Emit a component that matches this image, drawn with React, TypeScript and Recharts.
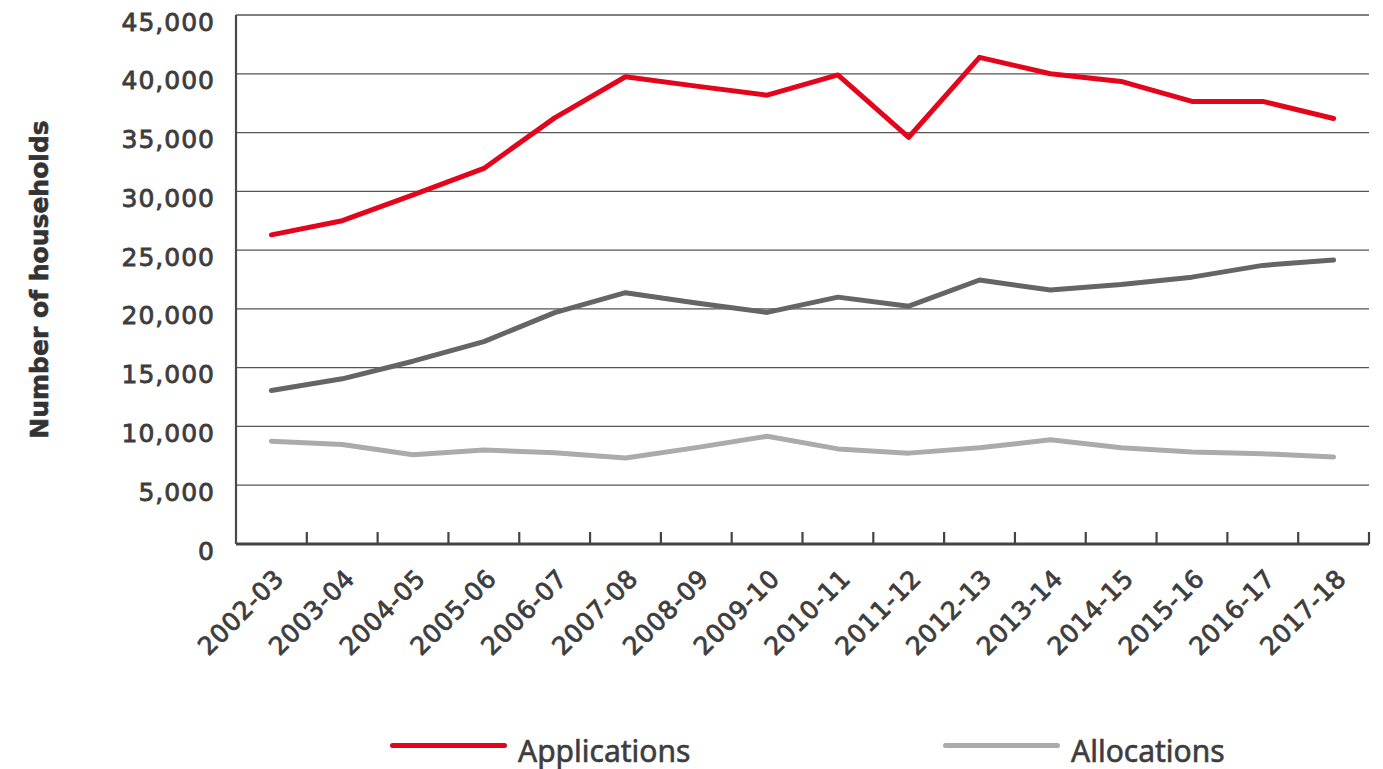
import React from 'react';
import { LineChart, Line, XAxis, YAxis, CartesianGrid, Legend } from 'recharts';

const years = ['2002-03', '2003-04', '2004-05', '2005-06', '2006-07', '2007-08', '2008-09', '2009-10', '2010-11', '2011-12', '2012-13', '2013-14', '2014-15', '2015-16', '2016-17', '2017-18'];
const applications = [26300, 27500, 29700, 31950, 36250, 39750, 38950, 38180, 39900, 34600, 41400, 40000, 39350, 37650, 37650, 36200];
const assessments = [13050, 14050, 15550, 17220, 19680, 21380, 20500, 19700, 21000, 20230, 22460, 21600, 22080, 22700, 23700, 24150];
const allocations = [8750, 8460, 7600, 8000, 7760, 7310, 8200, 9160, 8090, 7730, 8180, 8860, 8180, 7820, 7680, 7400];
const yTicks = [0, 5000, 10000, 15000, 20000, 25000, 30000, 35000, 40000, 45000];
const legendOrder = ['Applications', 'Allocations'];

const data = years.map((year, i) => ({
  idx: i,
  year,
  applications: applications[i],
  assessments: assessments[i],
  allocations: allocations[i],
}));

const xTicks = years.flatMap((_, i) => [i, i + 0.5]);

const TEXT = '#3d3d3d';
const FONT = '"DejaVu Sans", sans-serif';

const XTick = (props: any) => {
  const { x, y, payload } = props;
  const v = payload.value as number;
  if (Number.isInteger(v)) {
    const label = years[v];
    return (
      <text
        x={x + 14}
        y={y + 36}
        textAnchor="end"
        transform={`rotate(-45, ${x + 14}, ${y + 36})`}
        fill={TEXT}
        stroke={TEXT}
        strokeWidth={0.8}
        fontFamily={FONT}
        fontSize={25}
        letterSpacing={0.6}
      >
        {label}
      </text>
    );
  }
  return <line x1={x} x2={x} y1={y} y2={y - 12} stroke="#444" strokeWidth={2.2} />;
};

const YTick = (props: any) => {
  const { x, y, payload } = props;
  return (
    <text
      x={x}
      y={y + 8.5}
      textAnchor="end"
      dominantBaseline="middle"
      fill={TEXT}
      stroke={TEXT}
      strokeWidth={0.8}
      fontFamily={FONT}
      fontSize={25}
      letterSpacing={1}
    >
      {Number(payload.value).toLocaleString('en-US')}
    </text>
  );
};

const YTitle = (props: any) => {
  const { viewBox } = props;
  const cx = viewBox.x + 39;
  const cy = viewBox.y + viewBox.height / 2;
  return (
    <text
      x={cx}
      y={cy}
      textAnchor="middle"
      dominantBaseline="central"
      transform={`rotate(-90, ${cx}, ${cy})`}
      fill="#333"
      stroke="#333"
      strokeWidth={0.6}
      fontFamily={FONT}
      fontWeight="bold"
      fontSize={25}
    >
      Number of households
    </text>
  );
};

const LegendContent = (props: any) => {
  const payload = (props.payload || [])
    .filter((e: any) => legendOrder.includes(e.value))
    .sort((a: any, b: any) => legendOrder.indexOf(a.value) - legendOrder.indexOf(b.value));
  return (
    <div style={{ position: 'relative', width: 1383, height: 40 }}>
      {payload.map((entry: any, i: number) => {
        const left = 390 + i * 553;
        return (
          <div key={entry.value} style={{ position: 'absolute', left, top: 0, height: 40 }}>
            <div
              style={{
                position: 'absolute',
                left: 0,
                top: 14.2,
                width: 117,
                height: 5,
                borderRadius: 3,
                background: entry.color,
              }}
            />
            <div
              style={{
                position: 'absolute',
                left: 128,
                top: 7,
                fontFamily: '"Noto Sans", sans-serif',
                fontSize: 30,
                lineHeight: '30px',
                color: TEXT,
                WebkitTextStroke: `0.6px ${TEXT}`,
                whiteSpace: 'nowrap',
              }}
            >
              {entry.value}
            </div>
          </div>
        );
      })}
    </div>
  );
};

export default function App() {
  return (
    <div style={{ position: 'absolute', left: 0, top: 0, width: 1383, height: 769, background: '#fff' }}>
      <LineChart width={1383} height={769} data={data} margin={{ top: 15, right: 14, left: 0, bottom: 0 }}>
        <CartesianGrid vertical={false} stroke="#555" strokeWidth={1.3} />
        <XAxis
          dataKey="idx"
          type="number"
          domain={[-0.5, 15.5]}
          ticks={xTicks}
          interval={0}
          tickLine={false}
          tickSize={0}
          tickMargin={0}
          height={185}
          axisLine={{ stroke: '#444', strokeWidth: 3 }}
          tick={(p: any) => <XTick {...p} />}
        />
        <YAxis
          type="number"
          domain={[0, 45000]}
          ticks={yTicks}
          interval={0}
          width={236}
          tickLine={false}
          tickMargin={15}
          axisLine={{ stroke: '#4a4a4a', strokeWidth: 2.2 }}
          tick={(p: any) => <YTick {...p} />}
          label={{ content: (p: any) => <YTitle {...p} /> }}
        />
        <Legend
          layout="horizontal"
          verticalAlign="bottom"
          align="left"
          height={40}
          content={(p: any) => <LegendContent {...p} />}
        />
        <Line
          dataKey="applications"
          name="Applications"
          stroke="#e3051b"
          strokeWidth={5}
          dot={false}
          strokeLinecap="round"
          strokeLinejoin="round"
          isAnimationActive={false}
        />
        <Line
          dataKey="assessments"
          name="Assessments"
          stroke="#656565"
          strokeWidth={5}
          dot={false}
          strokeLinecap="round"
          strokeLinejoin="round"
          legendType="none"
          isAnimationActive={false}
        />
        <Line
          dataKey="allocations"
          name="Allocations"
          stroke="#ababab"
          strokeWidth={5}
          dot={false}
          strokeLinecap="round"
          strokeLinejoin="round"
          isAnimationActive={false}
        />
      </LineChart>
    </div>
  );
}
